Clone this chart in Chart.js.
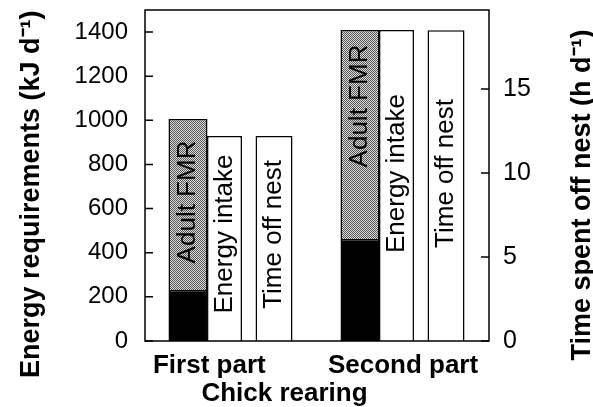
<!DOCTYPE html>
<html>
<head>
<meta charset="utf-8">
<script src="https://cdn.jsdelivr.net/npm/chart.js@4.4.1/dist/chart.umd.min.js"></script>
<style>
  html, body { margin: 0; padding: 0; background: #fff; }
  #wrap { width: 593px; height: 407px; }
</style>
</head>
<body>
<div id="wrap"><canvas id="chart"></canvas></div>
<script>
const categories = ['First part', 'Second part'];
// kJ per day (left axis)
const chickPart = [231, 462];        // black base of the FMR bar
const adultFmrRest = [775, 947];     // stippled part stacked on top
const energyIntake = [929, 1409];
// hours per day (right axis)
const timeOffNest = [12.2, 18.5];
const energyMax = 1500;
const energyStep = 200;
const hoursMax = 19.7;
const hoursStep = 5;

const FONT = '"Liberation Sans", Arial, sans-serif';
Chart.defaults.font.family = FONT;
Chart.defaults.color = '#000';

function stipple() {
  const c = document.createElement('canvas');
  c.width = 2; c.height = 2;
  const g = c.getContext('2d');
  g.fillStyle = '#dcdcdc';
  g.fillRect(0, 0, 2, 2);
  g.fillStyle = '#555';
  g.fillRect(0, 0, 1, 1);
  g.fillRect(1, 1, 1, 1);
  return g.createPattern(c, 'repeat');
}

// box round the plot, inward ticks, right-hand title
const frame = {
  id: 'frame',
  afterDraw(chart) {
    const { ctx, chartArea: a, scales } = chart;
    ctx.save();
    ctx.strokeStyle = '#000';
    ctx.lineWidth = 1.5;
    ctx.strokeRect(a.left, a.top, a.right - a.left, a.bottom - a.top);
    ctx.beginPath();
    scales.y.ticks.forEach(t => {
      const p = scales.y.getPixelForValue(t.value);
      ctx.moveTo(a.left, p); ctx.lineTo(a.left + 8, p);
    });
    scales.y2.ticks.forEach(t => {
      const p = scales.y2.getPixelForValue(t.value);
      ctx.moveTo(a.right, p); ctx.lineTo(a.right - 8, p);
    });
    ctx.stroke();

    ctx.translate(chart.width - 10, 195);
    ctx.rotate(-Math.PI / 2);
    ctx.font = 'bold 27px ' + FONT;
    ctx.fillStyle = '#000';
    ctx.textAlign = 'center';
    ctx.textBaseline = 'middle';
    ctx.fillText('Time spent off nest (h d\u207B\u00B9)', 0, 0);
    ctx.restore();
  }
};

// vertical names written inside the bars
const barText = {
  id: 'barText',
  afterDatasetsDraw(chart, args, opts) {
    const { ctx } = chart;
    ctx.save();
    ctx.font = '26px ' + FONT;
    ctx.fillStyle = '#000';
    ctx.textAlign = 'center';
    ctx.textBaseline = 'middle';
    opts.items.forEach(item => {
      const meta = chart.getDatasetMeta(item.dataset);
      meta.data.forEach((bar, i) => {
        const y = chart.scales.y.getPixelForValue(item.at[i]);
        ctx.save();
        ctx.translate(bar.x, y);
        ctx.rotate(-Math.PI / 2);
        ctx.fillText(item.text, 0, 0);
        ctx.restore();
      });
    });
    ctx.restore();
  }
};

function noEdgePadding(scale) {
  scale.paddingTop = 0; scale.paddingBottom = 0;
  scale.paddingLeft = 0; scale.paddingRight = 0;
}

const noGrid = { display: false, drawTicks: false };

const ctx = document.getElementById('chart').getContext('2d');
new Chart(ctx, {
  type: 'bar',
  data: {
    labels: categories,
    datasets: [
      {
        label: 'Chick',
        data: chickPart,
        backgroundColor: '#000',
        borderColor: '#000',
        borderWidth: 1.5,
        stack: 'fmr',
        categoryPercentage: 0.667,
        barPercentage: 1.36
      },
      {
        label: 'Adult FMR',
        data: adultFmrRest,
        backgroundColor: stipple(),
        borderColor: '#000',
        borderWidth: 1.5,
        stack: 'fmr',
        categoryPercentage: 0.667,
        barPercentage: 1.36
      },
      {
        label: 'Energy intake',
        data: energyIntake,
        backgroundColor: '#fff',
        borderColor: '#000',
        borderWidth: 1.5,
        stack: 'ei',
        categoryPercentage: 0.302,
        barPercentage: 2.69
      },
      {
        label: 'gap',
        data: [null, null],
        stack: 'gap'
      },
      {
        label: 'Time off nest',
        data: timeOffNest,
        backgroundColor: '#fff',
        borderColor: '#000',
        borderWidth: 1.5,
        yAxisID: 'y2',
        stack: 'ton',
        categoryPercentage: 0.667,
        barPercentage: 1.29
      }
    ]
  },
  options: {
    responsive: true,
    maintainAspectRatio: false,
    animation: false,
    layout: { padding: { top: 10, left: 0, right: 0, bottom: 0 } },
    plugins: {
      legend: { display: false },
      tooltip: { enabled: false },
      barText: {
        items: [
          { dataset: 1, text: 'Adult FMR', at: [630, 1065] },
          { dataset: 2, text: 'Energy intake', at: [485, 759] },
          { dataset: 4, text: 'Time off nest', at: [483, 759] }
        ]
      }
    },
    scales: {
      x: {
        type: 'category',
        offset: true,
        grid: noGrid,
        border: { display: false },
        ticks: {
          font: { size: 26, weight: 'bold' },
          padding: 9,
          maxRotation: 0,
          autoSkip: false,
          callback: (v, i) => categories[i] + (i === 0 ? '\u00A0'.repeat(6) : '')
        },
        title: {
          display: true,
          text: 'Chick rearing' + '\u00A0'.repeat(9),
          font: { size: 26, weight: 'bold', lineHeight: 1 },
          padding: { top: 0, bottom: 0.5 }
        },
        afterFit(scale) { scale.height = 66; noEdgePadding(scale); }
      },
      y: {
        min: 0,
        max: energyMax,
        grid: noGrid,
        border: { display: false },
        ticks: {
          stepSize: energyStep,
          includeBounds: false,
          font: { size: 24 },
          padding: 17,
          callback: v => String(v)
        },
        title: {
          display: true,
          text: 'Energy requirements (kJ d\u207B\u00B9)' + '\u00A0'.repeat(5),
          font: { size: 27, weight: 'bold', lineHeight: 1 },
          padding: { top: 18.5, bottom: 0 }
        },
        afterFit(scale) { scale.width = 145; noEdgePadding(scale); }
      },
      y2: {
        position: 'right',
        min: 0,
        max: hoursMax,
        grid: noGrid,
        border: { display: false },
        ticks: {
          stepSize: hoursStep,
          includeBounds: false,
          font: { size: 25 },
          padding: 14,
          callback: v => String(v)
        },
        afterFit(scale) { scale.width = 104; noEdgePadding(scale); }
      }
    }
  },
  plugins: [frame, barText]
});
</script>
</body>
</html>
